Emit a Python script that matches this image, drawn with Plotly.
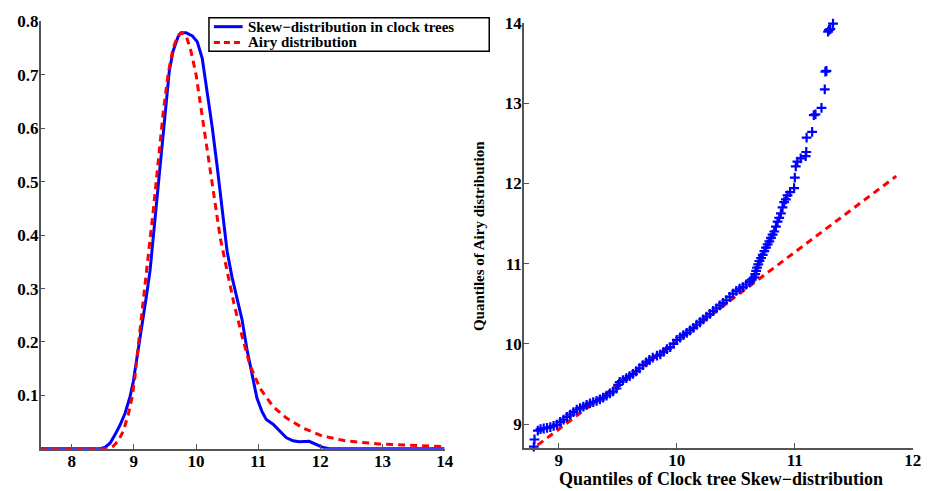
import plotly.graph_objects as go

# ---------------- Left panel: density curves ----------------
skew_x = [7.5, 8.0, 8.46, 8.54, 8.62, 8.70, 8.78, 8.86, 8.94, 8.99, 9.04, 9.12, 9.20, 9.26,
          9.31, 9.36, 9.42, 9.47, 9.52, 9.57, 9.63, 9.71, 9.76, 9.84, 9.94, 10.02, 10.10,
          10.18, 10.26, 10.34, 10.42, 10.50, 10.58, 10.66, 10.74, 10.82, 10.90, 10.98,
          11.06, 11.13, 11.24, 11.35, 11.45, 11.56, 11.66, 11.82, 11.93, 12.03, 12.14, 13.0, 14.0]
skew_y = [0.0, 0.0, 0.0, 0.003, 0.011, 0.027, 0.045, 0.067, 0.098, 0.125, 0.162, 0.217, 0.284, 0.333,
          0.395, 0.456, 0.529, 0.597, 0.658, 0.707, 0.744, 0.771, 0.779, 0.779, 0.773, 0.762, 0.731,
          0.670, 0.603, 0.529, 0.444, 0.370, 0.321, 0.284, 0.242, 0.186, 0.137, 0.095,
          0.070, 0.055, 0.046, 0.033, 0.021, 0.015, 0.013, 0.014, 0.009, 0.003, 0.0, 0.0, 0.0]

airy_x = [7.5, 8.0, 8.60, 8.67, 8.75, 8.83, 8.91, 8.97, 9.02, 9.07, 9.15, 9.23, 9.31, 9.39, 9.47,
          9.55, 9.63, 9.71, 9.77, 9.84, 9.92, 10.0, 10.08, 10.16, 10.24, 10.31, 10.39, 10.50,
          10.61, 10.74, 10.87, 11.03, 11.24, 11.45, 11.72, 12.03, 12.40, 12.93, 13.46, 14.0]
airy_y = [0.0, 0.0, 0.0, 0.005, 0.015, 0.033, 0.064, 0.095, 0.137, 0.192, 0.272, 0.358, 0.444, 0.535, 0.627,
          0.701, 0.750, 0.774, 0.779, 0.774, 0.744, 0.701, 0.640, 0.578, 0.517, 0.456, 0.395, 0.333,
          0.272, 0.211, 0.156, 0.113, 0.079, 0.058, 0.039, 0.024, 0.015, 0.009, 0.006, 0.004]

left_xticks = [8, 9, 10, 11, 12, 13, 14]
left_yticks = [0.1, 0.2, 0.3, 0.4, 0.5, 0.6, 0.7, 0.8]

legend_names = ["Skew\u2212distribution in clock trees", "Airy distribution"]

# ---------------- Right panel: QQ plot ----------------
qq_x = [8.788, 8.794, 8.822, 8.845, 8.872, 8.900, 8.928, 8.956, 8.984, 9.012, 9.040, 9.068, 9.096,
        9.124, 9.152, 9.180, 9.208, 9.236, 9.264, 9.292, 9.320, 9.348, 9.376, 9.404, 9.432, 9.460,
        9.488, 9.502, 9.516, 9.544, 9.572, 9.600, 9.628, 9.656, 9.684, 9.712, 9.740, 9.768, 9.796,
        9.832, 9.860, 9.888, 9.916, 9.944, 9.972, 10.000, 10.028, 10.056, 10.084, 10.112, 10.140,
        10.168, 10.196, 10.224, 10.252, 10.280, 10.308, 10.336, 10.364, 10.392, 10.420, 10.448,
        10.476, 10.504, 10.532, 10.560, 10.588, 10.616, 10.636, 10.656, 10.665, 10.672, 10.680,
        10.690, 10.700, 10.714, 10.728, 10.742, 10.756, 10.770, 10.784, 10.798, 10.812, 10.826,
        10.840, 10.854, 10.868, 10.882, 10.896, 10.910, 10.924, 10.938, 10.960, 10.994, 11.000,
        11.008, 11.022, 11.050, 11.092, 11.097, 11.100, 11.147, 11.161, 11.175, 11.226, 11.254,
        11.259, 11.268, 11.282, 11.290, 11.301, 11.324]
qq_y = [8.72, 8.81, 8.92, 8.94, 8.947, 8.955, 8.963, 8.98, 8.996, 9.03, 9.057, 9.09, 9.12,
        9.15, 9.18, 9.20, 9.22, 9.24, 9.26, 9.275, 9.29, 9.31, 9.33, 9.355, 9.383, 9.41,
        9.445, 9.49, 9.526, 9.55, 9.575, 9.60, 9.627, 9.66, 9.697, 9.735, 9.77, 9.80, 9.83,
        9.855, 9.87, 9.90, 9.935, 9.96, 10.00, 10.05, 10.08, 10.11, 10.137, 10.17, 10.20,
        10.239, 10.27, 10.305, 10.341, 10.375, 10.41, 10.443, 10.48, 10.51, 10.544, 10.585,
        10.626, 10.66, 10.687, 10.708, 10.74, 10.77, 10.80, 10.83, 10.87, 10.911, 10.95,
        10.99, 11.033, 11.07, 11.11, 11.155, 11.20, 11.24, 11.278, 11.32, 11.36, 11.40,
        11.46, 11.522, 11.57, 11.625, 11.70, 11.767, 11.80, 11.849, 11.89, 11.94, 12.07,
        12.21, 12.27, 12.31, 12.34, 12.39, 12.57, 12.64, 12.85, 12.86, 12.94, 13.17,
        13.39, 13.40, 13.89, 13.91, 13.92, 13.99]

ref_x = [8.82, 11.86]
ref_y = [8.74, 12.09]

right_xticks = [9, 10, 11, 12]
right_yticks = [9, 10, 11, 12, 13, 14]

x_title = "Quantiles of Clock tree Skew\u2212distribution"
y_title = "Quantiles of Airy distribution"

FONT = "Liberation Serif"
AXIS_GRAY = "#555555"
BLUE = "#0000ff"
RED = "#ff0000"
DASH = "7px,5px"

# The body margin is removed by a post_script, so the figure fills the window exactly
W, H = 932, 491


def px(x):
    """page pixel x -> paper fraction"""
    return x / W


def py(y):
    """page pixel y -> paper fraction"""
    return 1 - y / H


fig = go.Figure()
fig.add_trace(go.Scatter(x=skew_x, y=skew_y, mode="lines", name=legend_names[0], showlegend=False,
                         line=dict(color=BLUE, width=3), xaxis="x", yaxis="y"))
fig.add_trace(go.Scatter(x=airy_x, y=airy_y, mode="lines", name=legend_names[1], showlegend=False,
                         line=dict(color=RED, width=3, dash=DASH), xaxis="x", yaxis="y"))
fig.add_trace(go.Scatter(x=ref_x, y=ref_y, mode="lines", showlegend=False,
                         line=dict(color=RED, width=3, dash=DASH), xaxis="x2", yaxis="y2"))
fig.add_trace(go.Scatter(x=qq_x, y=qq_y, mode="markers", showlegend=False, cliponaxis=False,
                         marker=dict(symbol="cross-thin", size=7, color=BLUE,
                                     line=dict(width=2.2, color=BLUE)),
                         xaxis="x2", yaxis="y2"))

tick_font = dict(family=FONT, size=17, color="black", weight="bold")
common = dict(showline=True, linecolor=AXIS_GRAY, linewidth=1.5, mirror=False,
              ticks="inside", ticklen=5, tickwidth=1, tickcolor=AXIS_GRAY,
              showgrid=False, zeroline=False, tickfont=tick_font,
              ticklabeloverflow="allow")

shapes = [
    dict(type="rect", xref="paper", yref="paper", x0=px(211), x1=px(494), y0=py(43), y1=py(9),
         line=dict(color="black", width=1.5), fillcolor="white", layer="above"),
    dict(type="line", xref="paper", yref="paper", x0=px(216), x1=px(245), y0=py(18), y1=py(18),
         line=dict(color=BLUE, width=3), layer="above"),
    dict(type="line", xref="paper", yref="paper", x0=px(216), x1=px(245), y0=py(34), y1=py(34),
         line=dict(color=RED, width=3, dash="6px,4px"), layer="above"),
]
annotations = [
    dict(xref="paper", yref="paper", x=px(248), y=py(18), xanchor="left", yanchor="middle",
         text=legend_names[0], showarrow=False,
         font=dict(family=FONT, size=15, color="black", weight="bold")),
    dict(xref="paper", yref="paper", x=px(248), y=py(34), xanchor="left", yanchor="middle",
         text=legend_names[1], showarrow=False,
         font=dict(family=FONT, size=15, color="black", weight="bold")),
    dict(xref="paper", yref="paper", x=px(728), y=py(479), xanchor="center", yanchor="middle",
         text=x_title, showarrow=False,
         font=dict(family=FONT, size=18, color="black", weight="bold")),
    dict(xref="paper", yref="paper", x=px(483), y=py(231), xanchor="center", yanchor="middle",
         text=y_title, showarrow=False, textangle=-90,
         font=dict(family=FONT, size=15, color="black", weight="bold")),
]

fig.update_layout(
    width=W, height=H,
    margin=dict(l=0, r=0, t=0, b=0),
    paper_bgcolor="white", plot_bgcolor="white",
    showlegend=False,
    shapes=shapes, annotations=annotations,
    xaxis=dict(domain=[px(41), px(449)], range=[7.5, 14], tickvals=left_xticks,
               anchor="y", ticklabelstandoff=-4, **common),
    yaxis=dict(domain=[py(448), py(12.7)], range=[0, 0.8], tickvals=left_yticks,
               anchor="x", ticklabelstandoff=-3, **common),
    xaxis2=dict(domain=[px(529), px(921.7)], range=[8.704, 12], tickvals=right_xticks,
                anchor="y2", ticklabelstandoff=-4, **common),
    yaxis2=dict(domain=[py(446.7), py(14)], range=[8.71, 14], tickvals=right_yticks,
                anchor="x2", ticklabelstandoff=-3, **common),
)

fig.write_html("out.html",
               config={"displayModeBar": False},
               post_script="document.body.style.margin='0';document.body.style.overflow='hidden';")
